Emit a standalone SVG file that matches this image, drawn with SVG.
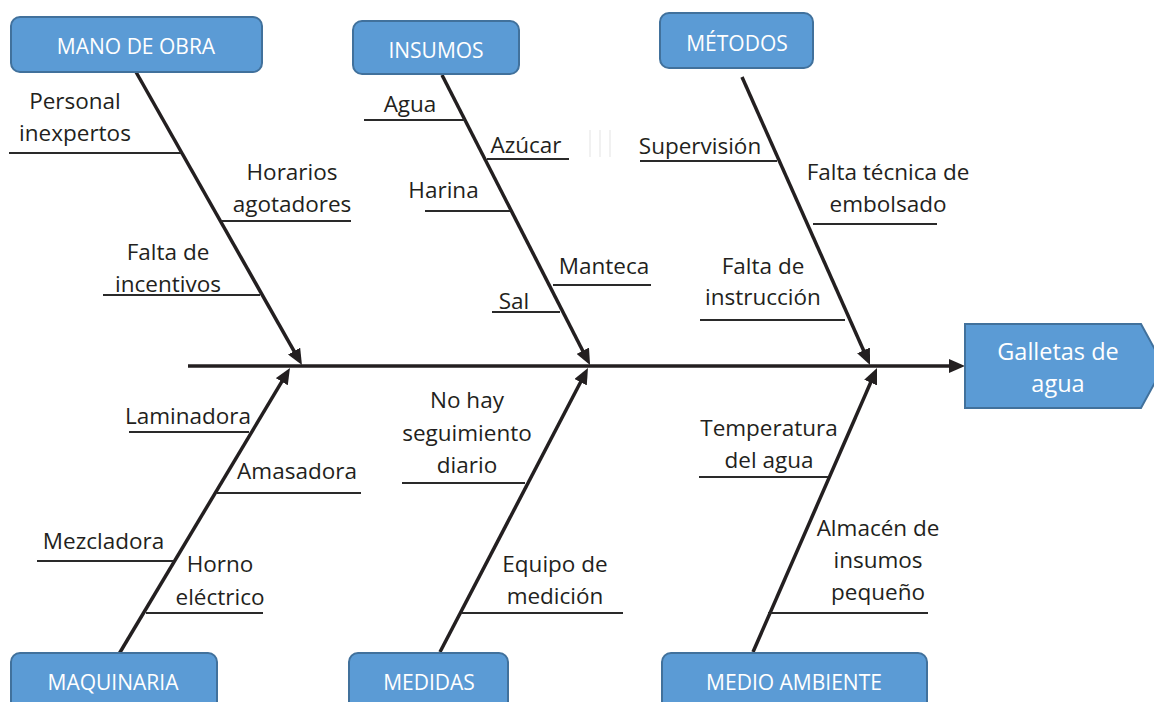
<svg xmlns="http://www.w3.org/2000/svg" width="1154" height="702" viewBox="0 0 1154 702">
<defs>
<style>
.box{fill:#5B9BD5;stroke:#41719C;stroke-width:2}
.bt{font-family:"Open Sans","Liberation Sans",sans-serif;font-size:21px;fill:#fff;text-anchor:middle}
.ht{font-family:"Open Sans","Liberation Sans",sans-serif;font-size:23.5px;fill:#fff;text-anchor:middle}
.t{font-family:"Open Sans","Liberation Sans",sans-serif;font-size:22.5px;fill:#231f20;text-anchor:middle}
.bone{stroke:#231f20;stroke-width:3.5;fill:none;marker-end:url(#ah)}
.ul{stroke:#2a2a2a;stroke-width:1.8}
.faint{stroke:#ececec;stroke-width:1.5}
</style>
<marker id="ah" viewBox="0 0 16 14" refX="10" refY="7" markerWidth="16" markerHeight="14" markerUnits="userSpaceOnUse" orient="auto">
<path d="M0,0 L16,7 L0,14 z" fill="#231f20"/>
</marker>
</defs>
<rect width="1154" height="702" fill="#fff"/>

<g id="connectors">
<line class="bone" x1="188" y1="366" x2="959" y2="366"/>
<line class="bone" x1="136" y1="72" x2="299" y2="359.8"/>
<line class="bone" x1="442" y1="75" x2="587.3" y2="359.7"/>
<line class="bone" x1="742" y1="77" x2="867.6" y2="359.5"/>
<line class="bone" x1="119" y1="654" x2="286.9" y2="373.1"/>
<line class="bone" x1="440" y1="652" x2="585.2" y2="373.3"/>
<line class="bone" x1="753" y1="652" x2="874.6" y2="373.5"/>
</g>

<g id="head">
<polygon class="box" points="965,324 1141,324 1164,366 1141,408 965,408"/>
<text class="ht" x="1058" y="360">Galletas de</text>
<text class="ht" x="1058" y="392">agua</text>
</g>

<g id="mano-de-obra">
<rect class="box" x="11" y="17" width="251" height="55" rx="9"/>
<text class="bt" x="136" y="54">MANO DE OBRA</text>
<line class="ul" x1="9" y1="153" x2="181" y2="153"/>
<text class="t" x="75" y="109">Personal</text>
<text class="t" x="75" y="141">inexpertos</text>
<line class="ul" x1="222" y1="221" x2="351" y2="221"/>
<text class="t" x="292" y="180">Horarios</text>
<text class="t" x="292" y="212">agotadores</text>
<line class="ul" x1="103" y1="295" x2="260" y2="295"/>
<text class="t" x="168" y="260">Falta de</text>
<text class="t" x="168" y="292">incentivos</text>
</g>

<g id="insumos">
<rect class="box" x="353" y="21" width="166" height="53" rx="9"/>
<text class="bt" x="436" y="58">INSUMOS</text>
<line class="ul" x1="364" y1="120" x2="465" y2="120"/>
<text class="t" x="410" y="112">Agua</text>
<line class="ul" x1="487" y1="159" x2="569" y2="159"/>
<text class="t" x="526" y="153">Azúcar</text>
<line class="ul" x1="425" y1="211" x2="510" y2="211"/>
<text class="t" x="443.5" y="198">Harina</text>
<line class="ul" x1="553" y1="285" x2="651" y2="285"/>
<text class="t" x="604" y="274">Manteca</text>
<line class="ul" x1="492" y1="312" x2="560" y2="312"/>
<text class="t" x="514" y="309">Sal</text>
<line class="faint" x1="590" y1="130" x2="590" y2="157"/>
<line class="faint" x1="600" y1="130" x2="600" y2="157"/>
<line class="faint" x1="610" y1="130" x2="610" y2="157"/>
</g>

<g id="metodos">
<rect class="box" x="660" y="13" width="153" height="55" rx="9"/>
<text class="bt" x="737" y="51">MÉTODOS</text>
<line class="ul" x1="640" y1="161" x2="777" y2="161"/>
<text class="t" x="700" y="154">Supervisión</text>
<line class="ul" x1="813" y1="224" x2="937" y2="224"/>
<text class="t" x="888" y="180">Falta técnica de</text>
<text class="t" x="888" y="212">embolsado</text>
<line class="ul" x1="700" y1="320" x2="845" y2="320"/>
<text class="t" x="763" y="274">Falta de</text>
<text class="t" x="763" y="305">instrucción</text>
</g>

<g id="maquinaria">
<rect class="box" x="11" y="653" width="206" height="60" rx="9"/>
<text class="bt" x="113" y="690">MAQUINARIA</text>
<line class="ul" x1="129" y1="432" x2="249" y2="432"/>
<text class="t" x="188" y="424">Laminadora</text>
<line class="ul" x1="217" y1="493" x2="361" y2="493"/>
<text class="t" x="297" y="479">Amasadora</text>
<line class="ul" x1="37" y1="561" x2="173" y2="561"/>
<text class="t" x="103.5" y="549">Mezcladora</text>
<line class="ul" x1="146" y1="613" x2="263" y2="613"/>
<text class="t" x="220" y="572">Horno</text>
<text class="t" x="220" y="605">eléctrico</text>
</g>

<g id="medidas">
<rect class="box" x="349" y="653" width="159" height="60" rx="9"/>
<text class="bt" x="429" y="690">MEDIDAS</text>
<line class="ul" x1="402" y1="483" x2="525" y2="483"/>
<text class="t" x="467" y="408">No hay</text>
<text class="t" x="467" y="441">seguimiento</text>
<text class="t" x="467" y="473">diario</text>
<line class="ul" x1="462" y1="613" x2="623" y2="613"/>
<text class="t" x="555" y="572">Equipo de</text>
<text class="t" x="555" y="604">medición</text>
</g>

<g id="medio-ambiente">
<rect class="box" x="662" y="653" width="265" height="60" rx="9"/>
<text class="bt" x="794" y="690">MEDIO AMBIENTE</text>
<line class="ul" x1="699" y1="477" x2="828" y2="477"/>
<text class="t" x="769" y="436">Temperatura</text>
<text class="t" x="769" y="468">del agua</text>
<line class="ul" x1="768" y1="613" x2="928" y2="613"/>
<text class="t" x="878" y="536">Almacén de</text>
<text class="t" x="878" y="568">insumos</text>
<text class="t" x="878" y="600">pequeño</text>
</g>
</svg>
